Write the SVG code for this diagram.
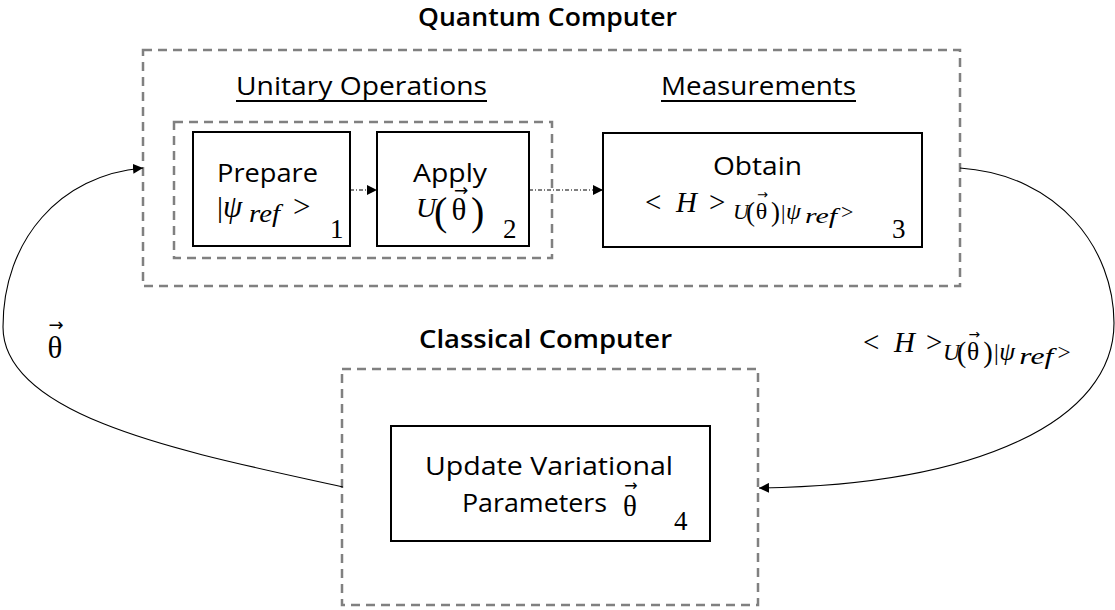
<svg xmlns="http://www.w3.org/2000/svg" width="1115" height="610" viewBox="0 0 1115 610">
  <style>
    .sans { font-family: "Open Sans", "Liberation Sans", sans-serif; fill: #000; }
    .title { font-size: 25px; font-weight: 600; }
    .head { font-size: 26px; }
    .lbl { font-size: 26px; }
    .math { font-family: "Liberation Serif", "DejaVu Serif", serif; fill: #000; }
    .it { font-style: italic; }
    .vec { font-family: "DejaVu Sans", sans-serif; fill: #000; text-anchor: middle; }
    .num { font-family: "Liberation Serif", "DejaVu Serif", serif; font-size: 27px; fill: #000; }
    .group { fill: none; stroke: #808080; stroke-width: 2.5; stroke-dasharray: 9 6; }
    .box { fill: #fff; stroke: #000; stroke-width: 2; }
    .flow { fill: none; stroke: #000; stroke-width: 1.2; stroke-dasharray: 4 2 1 2; }
    .loop { fill: none; stroke: #000; stroke-width: 1.1; }
    .uline { stroke: #000; stroke-width: 1.8; }
  </style>
  <defs>
    <marker id="arrow" viewBox="0 0 10 10" refX="10" refY="5" markerWidth="10" markerHeight="10" markerUnits="userSpaceOnUse" orient="auto">
      <path d="M0,0 L10,5 L0,10 z" fill="#000"/>
    </marker>
  </defs>

  <!-- group frames and headings -->
  <g id="quantum-computer">
    <text class="sans title" x="418" y="26" textLength="259" lengthAdjust="spacingAndGlyphs">Quantum Computer</text>
    <rect class="group" x="143" y="50" width="817" height="236"/>
    <text class="sans head" x="236" y="95" textLength="251" lengthAdjust="spacingAndGlyphs">Unitary Operations</text>
    <line class="uline" x1="236" y1="101" x2="487" y2="101"/>
    <text class="sans head" x="661" y="95" textLength="195" lengthAdjust="spacingAndGlyphs">Measurements</text>
    <line class="uline" x1="661" y1="101" x2="856" y2="101"/>
    <rect class="group" x="174" y="122" width="378" height="136"/>
  </g>

  <g id="classical-computer">
    <text class="sans title" x="419" y="348" textLength="253" lengthAdjust="spacingAndGlyphs">Classical Computer</text>
    <rect class="group" x="342" y="369" width="416" height="236"/>
  </g>

  <!-- step 1: prepare reference state -->
  <g id="prepare">
    <rect class="box" x="193" y="132" width="157" height="114"/>
    <text class="sans lbl" x="217" y="182" textLength="101" lengthAdjust="spacingAndGlyphs">Prepare</text>
    <text class="math" x="217" y="217" font-size="30">|</text>
    <text class="math it" x="223" y="217" font-size="31">ψ</text>
    <text class="math it" x="249" y="222" font-size="25" textLength="31" lengthAdjust="spacingAndGlyphs">ref</text>
    <text class="math" x="293" y="217" font-size="31">&gt;</text>
    <text class="num" x="330" y="238">1</text>
  </g>

  <!-- step 2: apply the ansatz -->
  <g id="apply">
    <rect class="box" x="377" y="132" width="152" height="114"/>
    <text class="sans lbl" x="413" y="182" textLength="74" lengthAdjust="spacingAndGlyphs">Apply</text>
    <text class="math it" x="416" y="217" font-size="28">U</text>
    <text class="math" x="434" y="225" font-size="40">(</text>
    <text class="math" x="459" y="220" font-size="31" text-anchor="middle">θ</text>
    <text class="vec" x="461" y="196" font-size="17">→</text>
    <text class="math" x="471" y="225" font-size="40">)</text>
    <text class="num" x="503" y="238">2</text>
  </g>

  <!-- step 3: measure the expectation value -->
  <g id="obtain">
    <rect class="box" x="603" y="133" width="319" height="114"/>
    <text class="sans lbl" x="713" y="175" textLength="89" lengthAdjust="spacingAndGlyphs">Obtain</text>
    <text class="math" x="645" y="212" font-size="29">&lt;</text>
    <text class="math it" x="676" y="212" font-size="29">H</text>
    <text class="math" x="709" y="212" font-size="29">&gt;</text>
    <g transform="translate(733,219)">
      <text class="math it" x="0" y="0" font-size="22">U</text>
      <text class="math" x="13" y="2" font-size="27">(</text>
      <text class="math" x="28.5" y="0" font-size="24" text-anchor="middle">θ</text>
      <text class="vec" x="29.5" y="-20" font-size="13">→</text>
      <text class="math" x="38" y="2" font-size="27">)</text>
      <text class="math" x="48" y="0" font-size="22">|</text>
      <text class="math it" x="53" y="0" font-size="24">ψ</text>
      <text class="math it" x="72" y="4" font-size="22" textLength="32" lengthAdjust="spacingAndGlyphs">ref</text>
      <text class="math" x="108" y="0" font-size="22">&gt;</text>
    </g>
    <text class="num" x="892" y="238">3</text>
  </g>

  <!-- step 4: classical parameter update -->
  <g id="update">
    <rect class="box" x="391" y="426" width="319" height="115"/>
    <text class="sans lbl" x="425" y="475" textLength="248" lengthAdjust="spacingAndGlyphs">Update Variational</text>
    <text class="sans lbl" x="462" y="512" textLength="145" lengthAdjust="spacingAndGlyphs">Parameters</text>
    <text class="math" x="630" y="516" font-size="29" text-anchor="middle">θ</text>
    <text class="vec" x="631" y="491" font-size="16">→</text>
    <text class="num" x="674" y="530">4</text>
  </g>

  <!-- loop labels -->
  <g id="label-theta">
    <text class="math" x="55" y="358" font-size="31" text-anchor="middle">θ</text>
    <text class="vec" x="56" y="331" font-size="18">→</text>
  </g>
  <g id="label-expect">
    <text class="math" x="863" y="352" font-size="29">&lt;</text>
    <text class="math it" x="894" y="352" font-size="29">H</text>
    <text class="math" x="926" y="352" font-size="29">&gt;</text>
    <g transform="translate(943,360) scale(1.06)">
      <text class="math it" x="0" y="0" font-size="22">U</text>
      <text class="math" x="13" y="2" font-size="27">(</text>
      <text class="math" x="28.5" y="0" font-size="24" text-anchor="middle">θ</text>
      <text class="vec" x="29.5" y="-20" font-size="13">→</text>
      <text class="math" x="38" y="2" font-size="27">)</text>
      <text class="math" x="48" y="0" font-size="22">|</text>
      <text class="math it" x="53" y="0" font-size="24">ψ</text>
      <text class="math it" x="72" y="4" font-size="22" textLength="32" lengthAdjust="spacingAndGlyphs">ref</text>
      <text class="math" x="108" y="0" font-size="22">&gt;</text>
    </g>
  </g>

  <!-- connectors -->
  <g id="connectors">
    <line class="flow" x1="350" y1="190" x2="377" y2="190" marker-end="url(#arrow)"/>
    <line class="flow" x1="529" y1="190" x2="603" y2="190" marker-end="url(#arrow)"/>
    <path class="loop" d="M343,487 C200,455 3,420 3,327 C3,240 60,175 143,168" marker-end="url(#arrow)"/>
    <path class="loop" d="M960,168 C1060,175 1114,250 1114,323 C1114,420 980,485 759,488" marker-end="url(#arrow)"/>
  </g>
</svg>
